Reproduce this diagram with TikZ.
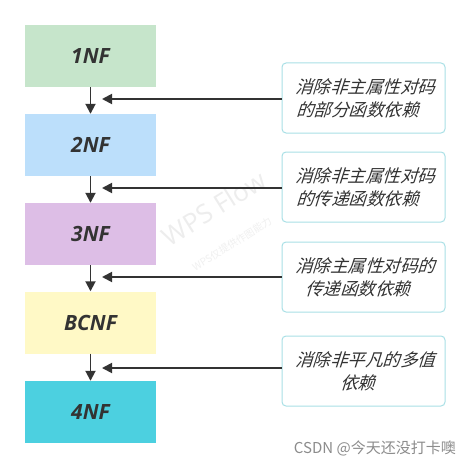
\documentclass[tikz,border=0pt]{standalone}
\usepackage{fontspec}
\setmainfont{Open Sans}
\newfontfamily\cjk{Noto Sans CJK SC}
\usetikzlibrary{arrows.meta}
\definecolor{cA}{HTML}{C6E5CB}
\definecolor{cB}{HTML}{BCDFFB}
\definecolor{cC}{HTML}{DDBEE6}
\definecolor{cD}{HTML}{FFF9C6}
\definecolor{cE}{HTML}{4CD0E0}
\definecolor{txt}{HTML}{333333}
\definecolor{rb}{HTML}{A9E0E6}
\tikzset{
  nfbox/.style={minimum width=131pt,minimum height=62pt,inner sep=0pt,draw=none,
    font=\fontsize{21}{21}\selectfont\bfseries\itshape,text=txt},
  notebox/.style={minimum width=163pt,minimum height=70pt,draw=rb,line width=1pt,
    rounded corners=4pt,fill=white},
  notetext/.style={align=center,text=txt,xslant=0.32,transform shape,
    font=\cjk\fontsize{17.5}{23}\selectfont},
  conn/.style={draw=txt,line width=1.8pt,-{Triangle[length=10pt,width=10pt]}}
}
\begin{document}
\begin{tikzpicture}[x=1pt,y=-1pt]
\useasboundingbox[fill=white] (0,0) rectangle (470,468);
% watermark
\node[rotate=32,text=black!7,font=\fontsize{26}{26}\selectfont] (wps) at (214,208) {WPS Flow};
\node[rotate=32,text=black!6,font=\cjk\fontsize{10}{10}\selectfont] (wps2) at (232,244) {WPS仅提供作图能力};
% main boxes
\node[nfbox,fill=cA] (n1) at (90.5,56) {1NF};
\node[nfbox,fill=cB] (n2) at (90.5,145) {2NF};
\node[nfbox,fill=cC] (n3) at (90.5,234) {3NF};
\node[nfbox,fill=cD] (n4) at (90.5,322.5) {BCNF};
\node[nfbox,fill=cE] (n5) at (90.5,412) {4NF};
% note boxes
\node[notebox] (r1) at (363.5,98) {};
\node[notebox] (r2) at (363.5,187) {};
\node[notebox] (r3) at (363.5,277) {};
\node[notebox] (r4) at (363.5,371) {};
\node[notetext] (l1) at (r1) {消除非主属性对码\\的部分函数依赖};
\node[notetext] (l2) at (r2) {消除非主属性对码\\的传递函数依赖};
\node[notetext] (l3) at (r3) {消除主属性对码的\\传递函数依赖};
\node[notetext] (l4) at (r4) {消除非平凡的多值\\依赖};
% vertical arrows
\draw[conn] (n1.south) -- (n2.north);
\draw[conn] (n2.south) -- (n3.north);
\draw[conn] (n3.south) -- (n4.north);
\draw[conn] (n4.south) -- (n5.north);
% horizontal arrows
\coordinate (t1) at (102,99);
\coordinate (t2) at (102,188);
\coordinate (t3) at (102,277);
\coordinate (t4) at (102,368);
\draw[conn] (r1.west |- t1) -- (t1);
\draw[conn] (r2.west |- t2) -- (t2);
\draw[conn] (r3.west |- t3) -- (t3);
\draw[conn] (r4.west |- t4) -- (t4);
% CSDN watermark
\node[anchor=east,text=black!45,font=\cjk\fontsize{15}{15}\selectfont,inner sep=0pt] (wm) at (456,448) {CSDN @今天还没打卡噢};
\end{tikzpicture}
\end{document}
